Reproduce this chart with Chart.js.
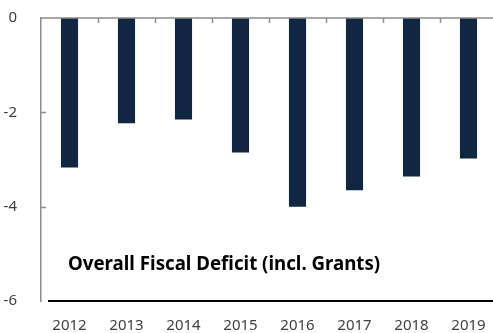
<!DOCTYPE html>
<html>
<head>
<meta charset="utf-8">
<script src="https://cdn.jsdelivr.net/npm/chart.js@4"></script>
<style>
  html, body { margin: 0; padding: 0; background: #fff; overflow: hidden; }
  #wrap { width: 500px; height: 333px; }
</style>
</head>
<body>
<div id="wrap"><canvas id="deficit" width="500" height="333"></canvas></div>
<script>
const years = ["2012", "2013", "2014", "2015", "2016", "2017", "2018", "2019"];
const deficit = [-3.17, -2.23, -2.15, -2.85, -4.0, -3.65, -3.36, -2.98];
const yTicks = [0, -2, -4, -6];
const chartTitle = "Overall Fiscal Deficit (incl. Grants)";

const FONT = "'Noto Sans', 'Open Sans', sans-serif";

// top line, inward tick marks, bottom rule and the caption inside the plot
const axisMarks = {
  id: "axisMarks",
  afterDraw(chart) {
    const ctx = chart.ctx;
    const area = chart.chartArea;
    const x = chart.scales.x;
    const y = chart.scales.y;
    ctx.save();
    ctx.strokeStyle = "#8c8c8c";
    ctx.lineWidth = 1.5;
    ctx.beginPath();
    ctx.moveTo(area.left, area.top);
    ctx.lineTo(area.right, area.top);
    for (let i = 0; i < years.length - 1; i++) {
      const px = Math.round((x.getPixelForValue(i) + x.getPixelForValue(i + 1)) / 2) + 0.5;
      ctx.moveTo(px, area.top);
      ctx.lineTo(px, area.top + 5);
    }
    yTicks.forEach(v => {
      if (v === 0 || v === -6) return;
      const py = Math.round(y.getPixelForValue(v)) + 0.5;
      ctx.moveTo(area.left, py);
      ctx.lineTo(area.left + 5, py);
    });
    ctx.stroke();

    ctx.strokeStyle = "#000";
    ctx.lineWidth = 2;
    ctx.beginPath();
    ctx.moveTo(area.left + 7, area.bottom);
    ctx.lineTo(area.right, area.bottom);
    ctx.stroke();

    ctx.fillStyle = "#000";
    ctx.font = "bold 18.7px " + FONT;
    ctx.textBaseline = "middle";
    ctx.textAlign = "left";
    ctx.fillText(chartTitle, area.left + 27, y.getPixelForValue(-5.22));
    ctx.restore();
  }
};

new Chart(document.getElementById("deficit"), {
  type: "bar",
  data: {
    labels: years,
    datasets: [{
      data: deficit,
      backgroundColor: "#102641",
      borderWidth: 0,
      barPercentage: 0.3,
      categoryPercentage: 1
    }]
  },
  options: {
    responsive: false,
    animation: false,
    layout: { padding: { top: 18, right: 3, left: 0, bottom: 0 } },
    plugins: { legend: { display: false }, tooltip: { enabled: false }, title: { display: false } },
    scales: {
      x: {
        grid: { display: false },
        border: { display: false },
        ticks: { color: "#404040", font: { family: FONT, size: 15 }, padding: 8, maxRotation: 0 },
        afterFit(scale) { scale.height = 32; }
      },
      y: {
        min: -6,
        max: 0,
        grid: { display: false },
        border: { display: true, color: "#8c8c8c", width: 1.5 },
        afterBuildTicks(scale) { scale.ticks = yTicks.map(v => ({ value: v })); },
        ticks: { color: "#404040", font: { family: FONT, size: 15 }, padding: 16 },
        afterFit(scale) {
          scale.width = 41;
          // keep the label padding from pushing the plot down
          scale.paddingTop = 9;
          scale.paddingBottom = 9;
        }
      }
    }
  },
  plugins: [axisMarks]
});
</script>
</body>
</html>
